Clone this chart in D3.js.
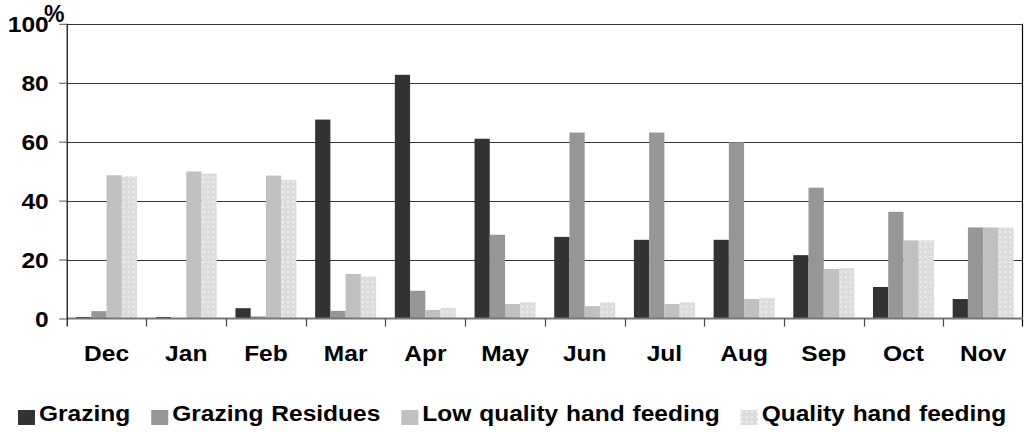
<!DOCTYPE html>
<html>
<head>
<meta charset="utf-8">
<script src="https://cdn.jsdelivr.net/npm/d3@7"></script>
<style>
  body { margin: 0; background: #fff; }
  svg { display: block; }
  text { font-family: "Liberation Sans", Arial, sans-serif; font-weight: bold; fill: #000; }
</style>
</head>
<body>
<svg id="chart" width="1026" height="432"></svg>
<script>
// Monthly share (%) of each feeding source
const months = ["Dec", "Jan", "Feb", "Mar", "Apr", "May", "Jun", "Jul", "Aug", "Sep", "Oct", "Nov"];
const seriesNames = ["Grazing", "Grazing Residues", "Low quality hand feeding", "Quality hand feeding"];
const grazing         = [0.5, 0.5, 3.5, 67.5, 82.7, 61.0, 27.7, 26.7, 26.7, 21.5, 10.7, 6.6];
const grazingResidues = [2.5, 0.0, 0.7, 2.6, 9.4, 28.4, 63.1, 63.1, 59.8, 44.4, 36.2, 30.9];
const lowQuality      = [48.6, 49.9, 48.5, 15.1, 2.9, 4.9, 4.2, 4.9, 6.6, 16.8, 26.5, 30.9];
const highQuality     = [48.2, 49.2, 47.0, 14.3, 3.6, 5.5, 5.5, 5.5, 6.9, 17.1, 26.5, 30.9];
const yTicks = [0, 20, 40, 60, 80, 100];

const seriesValues = [grazing, grazingResidues, lowQuality, highQuality];
const fills = ["#333333", "#969696", "#c0c0c0", "url(#dots)"];

const svg = d3.select("#chart");
const sx = 1.09;           // horizontal text stretch
const fontSize = 22.5;

const plot = { left: 66.7, right: 1023, top: 23.8, bottom: 318.5 };

// dotted fill for the quality hand feeding series
const defs = svg.append("defs");
const pat = defs.append("pattern").attr("id", "dots")
  .attr("patternUnits", "userSpaceOnUse").attr("width", 5).attr("height", 5);
pat.append("rect").attr("width", 5).attr("height", 5).attr("fill", "#dcdcdc");
pat.append("rect").attr("x", 1).attr("y", 1).attr("width", 2).attr("height", 2).attr("fill", "#ececec");

const x0 = d3.scaleBand().domain(months).range([plot.left, plot.right]);
const bw = x0.bandwidth();
const gap = bw * 0.235;
const x1 = d3.scaleBand().domain(seriesNames).range([gap / 2, bw - gap / 2]);
const y = d3.scaleLinear().domain([0, 100]).range([plot.bottom, plot.top]);

// gridlines
svg.append("g").selectAll("line").data(yTicks.filter(t => t > 0)).join("line")
  .attr("x1", plot.left).attr("x2", plot.right)
  .attr("y1", d => Math.round(y(d)) + 0.5).attr("y2", d => Math.round(y(d)) + 0.5)
  .attr("stroke", "#333").attr("stroke-width", 1);

// bars
const rows = months.map((m, i) => ({ month: m, vals: seriesNames.map((s, k) => ({ s, k, v: seriesValues[k][i] })) }));
svg.append("g").selectAll("g").data(rows).join("g")
  .attr("transform", d => `translate(${x0(d.month)},0)`)
  .selectAll("rect").data(d => d.vals).join("rect")
  .attr("x", d => x1(d.s))
  .attr("width", x1.bandwidth())
  .attr("y", d => y(d.v))
  .attr("height", d => y(0) - y(d.v))
  .attr("fill", d => fills[d.k]);

// right frame line
svg.append("line")
  .attr("x1", plot.right - 0.5).attr("x2", plot.right - 0.5)
  .attr("y1", plot.top).attr("y2", plot.bottom + 8)
  .attr("stroke", "#000").attr("stroke-width", 1.2);

// x axis line and category ticks
svg.append("line")
  .attr("x1", plot.left).attr("x2", plot.right)
  .attr("y1", plot.bottom).attr("y2", plot.bottom)
  .attr("stroke", "#777").attr("stroke-width", 2);
svg.append("g").selectAll("line").data(months.slice(1)).join("line")
  .attr("x1", d => Math.round(x0(d)) + 0.5).attr("x2", d => Math.round(x0(d)) + 0.5)
  .attr("y1", plot.bottom).attr("y2", plot.bottom + 8)
  .attr("stroke", "#444").attr("stroke-width", 1.2);

// y axis
const yAxis = svg.append("g").attr("transform", `translate(${plot.left},0)`)
  .call(d3.axisLeft(y).tickValues(yTicks).tickSize(7.5).tickPadding(11).tickFormat(d3.format("d")));
yAxis.select(".domain").attr("d", `M0.5,${plot.top}V${plot.bottom + 8}`).attr("stroke", "#000").attr("stroke-width", 1.2);
yAxis.selectAll(".tick line").attr("stroke", "#555");
yAxis.selectAll(".tick text")
  .attr("font-size", fontSize).attr("fill", "#000").attr("font-family", null)
  .attr("x", null).attr("dy", "0.36em")
  .attr("transform", `translate(-18,0) scale(${sx},1)`);
svg.append("text").attr("x", 44).attr("y", 22).attr("font-size", 23).text("%");

// month labels
svg.append("g").selectAll("text").data(months).join("text")
  .attr("transform", d => `translate(${x0(d) + bw / 2},361) scale(${sx},1)`)
  .attr("text-anchor", "middle").attr("font-size", fontSize)
  .text(d => d);

// legend
const leg = svg.append("g");
let lx = 18;
seriesNames.forEach((s, k) => {
  leg.append("rect").attr("x", lx).attr("y", 410).attr("width", 17).attr("height", 15).attr("fill", fills[k]);
  const t = leg.append("text").attr("transform", `translate(${lx + 21},421) scale(${sx},1)`)
    .attr("font-size", fontSize).attr("word-spacing", 1).text(s);
  lx += 21 + t.node().getBBox().width * sx + 21;
});
</script>
</body>
</html>
